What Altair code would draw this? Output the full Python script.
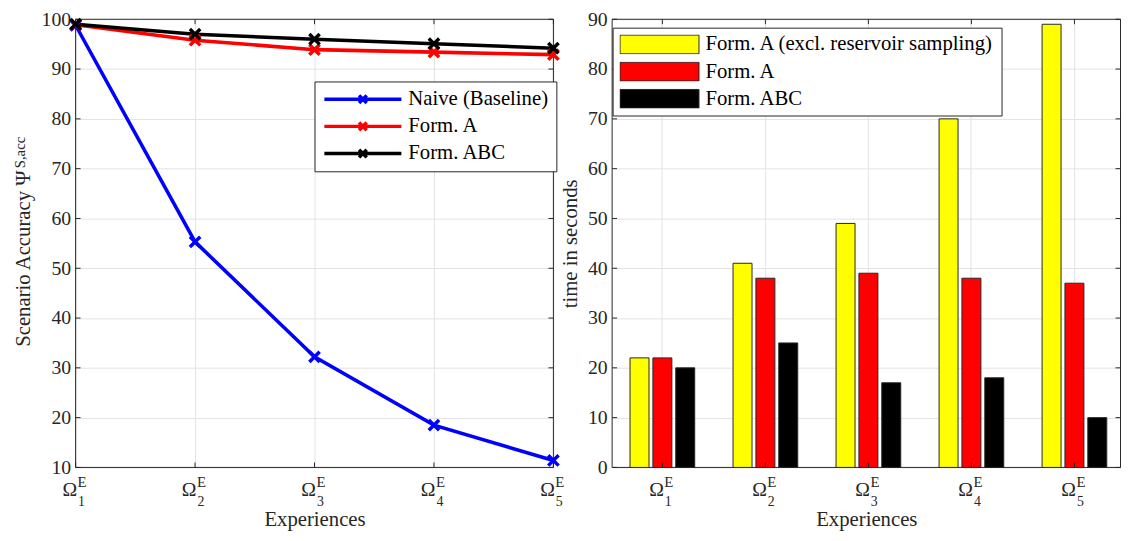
import altair as alt
import pandas as pd

# ---------------- data ----------------
exp_index = [1, 2, 3, 4, 5]
exp_keys = ["E1", "E2", "E3", "E4", "E5"]
exp_sub = ["1", "2", "3", "4", "5"]

acc_series = ["Naive (Baseline)", "Form. A", "Form. ABC"]
acc_colors = ["#0000ff", "#ff0000", "#000000"]
acc_naive = [98.8, 55.3, 32.2, 18.5, 11.4]
acc_form_a = [98.9, 95.8, 93.9, 93.4, 92.9]
acc_form_abc = [99.0, 97.0, 96.0, 95.1, 94.2]
acc_ticks = [10, 20, 30, 40, 50, 60, 70, 80, 90, 100]

time_series = ["Form. A (excl. reservoir sampling)", "Form. A", "Form. ABC"]
time_colors = ["#ffff00", "#ff0000", "#000000"]
time_form_a_excl = [22, 41, 49, 70, 89]
time_form_a = [22, 38, 39, 38, 37]
time_form_abc = [20, 25, 17, 18, 10]
time_ticks = [0, 10, 20, 30, 40, 50, 60, 70, 80, 90]

# ---------------- style ----------------
FONT = "Liberation Serif"
INK = "#262626"
GRID = "#e3e3e3"
LW, LH = 484, 454
RW, RH = 515, 454

acc_df = pd.DataFrame({
    "exp": exp_index * 3,
    "series": [s for s in acc_series for _ in exp_index],
    "value": acc_naive + acc_form_a + acc_form_abc,
})
time_df = pd.DataFrame({
    "key": exp_keys * 3,
    "series": [s for s in time_series for _ in exp_keys],
    "value": time_form_a_excl + time_form_a + time_form_abc,
})
lblL = pd.DataFrame({"exp": exp_index, "sub": exp_sub})
lblR = pd.DataFrame({"key": exp_keys, "sub": exp_sub})
ytL = pd.DataFrame({"value": acc_ticks})
ytR = pd.DataFrame({"value": time_ticks})
one = pd.DataFrame({"t": ["S,acc"]})

# ---------------- left: accuracy ----------------
xL = alt.X("exp:Q", scale=alt.Scale(domain=[1, 5], nice=False, zero=False),
           axis=alt.Axis(values=exp_index, labels=False, ticks=False, domain=False,
                         grid=True, title="Experiences", titleY=59,
                         titleBaseline="alphabetic"))
yL = alt.Y("value:Q", scale=alt.Scale(domain=[10, 100], nice=False, zero=False),
           axis=alt.Axis(values=acc_ticks, ticks=False, domain=False, grid=True,
                         labelPadding=5, title="Scenario Accuracy Ψ", titleAngle=270,
                         titleX=-46.5, titleY=242, titleAlign="center",
                         titleBaseline="alphabetic"))
legL = alt.Legend(title=None, orient="none", legendX=242, legendY=63,
                  symbolType="M-1,0H1M-0.1,-0.1L0.1,0.1M-0.1,0.1L0.1,-0.1",
                  symbolSize=6084, symbolStrokeWidth=3.5,
                  labelFont=FONT, labelFontSize=21, labelColor="#000000", labelLimit=400,
                  strokeColor=INK, fillColor="white", padding=8, rowPadding=6.5,
                  labelOffset=5, clipHeight=20)
colorL = alt.Color("series:N", scale=alt.Scale(domain=acc_series, range=acc_colors),
                   legend=legL)

boxL = alt.Chart(one).mark_rect(fillOpacity=0, stroke=INK, strokeWidth=1).encode(
    x=alt.value(0), x2=alt.value(LW), y=alt.value(0), y2=alt.value(LH))
tickYL1 = alt.Chart(ytL).mark_rule(color=INK, strokeWidth=1).encode(
    y=yL, x=alt.value(0), x2=alt.value(5))
tickYL2 = alt.Chart(ytL).mark_rule(color=INK, strokeWidth=1).encode(
    y=yL, x=alt.value(LW - 5), x2=alt.value(LW))
tickXL1 = alt.Chart(lblL).mark_rule(color=INK, strokeWidth=1).encode(
    x=xL, y=alt.value(LH), y2=alt.value(LH - 5))
tickXL2 = alt.Chart(lblL).mark_rule(color=INK, strokeWidth=1).encode(
    x=xL, y=alt.value(0), y2=alt.value(5))
linesL = alt.Chart(acc_df).mark_line(strokeWidth=3.6).encode(x=xL, y=yL, color=colorL)
pointsL = alt.Chart(acc_df).mark_point(shape="M-1,-1L1,1M-1,1L1,-1", size=110,
                                       filled=False, strokeWidth=3.5, opacity=1).encode(
    x=xL, y=yL, color=colorL)
omegaL = alt.Chart(lblL).mark_text(text="Ω", font=FONT, fontSize=20, color=INK,
                                   align="right", baseline="alphabetic", dx=1.5).encode(
    x=xL, y=alt.value(LH + 29))
supL = alt.Chart(lblL).mark_text(text="E", font=FONT, fontSize=15, color=INK,
                                 align="left", baseline="alphabetic", dx=2).encode(
    x=xL, y=alt.value(LH + 20))
subL = alt.Chart(lblL).mark_text(font=FONT, fontSize=14, color=INK,
                                 align="left", baseline="alphabetic", dx=2.5).encode(
    x=xL, y=alt.value(LH + 39), text="sub:N")
ysupL = alt.Chart(one).mark_text(font=FONT, fontSize=15, color=INK,
                                 align="left", baseline="alphabetic").encode(
    x=alt.value(-51), y=alt.value(151), text="t:N", angle=alt.value(270))

left = alt.layer(boxL, tickYL1, tickYL2, tickXL1, tickXL2, linesL, pointsL,
                 omegaL, supL, subL, ysupL).properties(width=LW, height=LH)

# ---------------- right: time ----------------
band = alt.Scale(domain=exp_keys, paddingInner=0.372, paddingOuter=0.1535, align=0.566)
axR = alt.Axis(labels=False, ticks=False, domain=False, grid=True,
               bandPosition=0.5, title="Experiences", titleY=59,
               titleBaseline="alphabetic")
xR = alt.X("key:N", scale=band, axis=axR)
xRc = alt.X("key:N", bandPosition=0.5, scale=band, axis=axR)
yR = alt.Y("value:Q", scale=alt.Scale(domain=[0, 90], nice=False, zero=False),
           axis=alt.Axis(values=time_ticks, ticks=False, domain=False, grid=True,
                         labelPadding=5, title="time in seconds", titleAngle=270,
                         titleX=-36, titleY=RH / 2, titleAlign="center",
                         titleBaseline="alphabetic"))
legR = alt.Legend(title=None, orient="none", legendX=0.5, legendY=8.5,
                  symbolType="M-1,-0.2375H1V0.2375H-1Z", symbolSize=6400,
                  symbolStrokeColor=INK, symbolStrokeWidth=1,
                  labelFont=FONT, labelFontSize=21, labelColor="#000000", labelLimit=500,
                  strokeColor=INK, fillColor="white", padding=7, rowPadding=6.5,
                  labelOffset=6, clipHeight=20)
colorR = alt.Color("series:N", scale=alt.Scale(domain=time_series, range=time_colors),
                   legend=legR)

boxR = alt.Chart(one).mark_rect(fillOpacity=0, stroke=INK, strokeWidth=1).encode(
    x=alt.value(0), x2=alt.value(RW), y=alt.value(0), y2=alt.value(RH))
tickYR1 = alt.Chart(ytR).mark_rule(color=INK, strokeWidth=1).encode(
    y=yR, x=alt.value(0), x2=alt.value(5))
tickYR2 = alt.Chart(ytR).mark_rule(color=INK, strokeWidth=1).encode(
    y=yR, x=alt.value(RW - 5), x2=alt.value(RW))
bars = alt.Chart(time_df).mark_bar(stroke=INK, strokeWidth=1, opacity=1).encode(
    x=xR,
    xOffset=alt.XOffset("series:N", sort=time_series,
                        scale=alt.Scale(domain=time_series, paddingInner=0.17,
                                        paddingOuter=0)),
    y=yR, color=colorR)
tickXR1 = alt.Chart(lblR).mark_rule(color=INK, strokeWidth=1).encode(
    x=xRc, y=alt.value(RH), y2=alt.value(RH - 5))
tickXR2 = alt.Chart(lblR).mark_rule(color=INK, strokeWidth=1).encode(
    x=xRc, y=alt.value(0), y2=alt.value(5))
omegaR = alt.Chart(lblR).mark_text(text="Ω", font=FONT, fontSize=20, color=INK,
                                   align="right", baseline="alphabetic", dx=1.5).encode(
    x=xRc, y=alt.value(RH + 29))
supR = alt.Chart(lblR).mark_text(text="E", font=FONT, fontSize=15, color=INK,
                                 align="left", baseline="alphabetic", dx=2).encode(
    x=xRc, y=alt.value(RH + 20))
subR = alt.Chart(lblR).mark_text(font=FONT, fontSize=14, color=INK,
                                 align="left", baseline="alphabetic", dx=2.5).encode(
    x=xRc, y=alt.value(RH + 39), text="sub:N")

right = alt.layer(boxR, tickYR1, tickYR2, bars, tickXR1, tickXR2,
                  omegaR, supR, subR).properties(width=RW, height=RH)

chart = alt.hconcat(left, right, spacing=59.5, bounds="flush",
                    padding={"left": 4.5, "top": -2, "right": 0, "bottom": 0}
                    ).resolve_scale(color="independent").configure(
    font=FONT
).configure_axis(
    labelFont=FONT, labelFontSize=20, labelColor=INK,
    titleFont=FONT, titleFontSize=21, titleColor=INK, titleFontWeight="normal",
    gridColor=GRID, gridWidth=1
).configure_legend(
    labelFont=FONT, labelFontSize=21, labelLimit=500
).configure_view(strokeOpacity=0)

chart.save("out.html", embed_options={"renderer": "svg", "actions": False})
